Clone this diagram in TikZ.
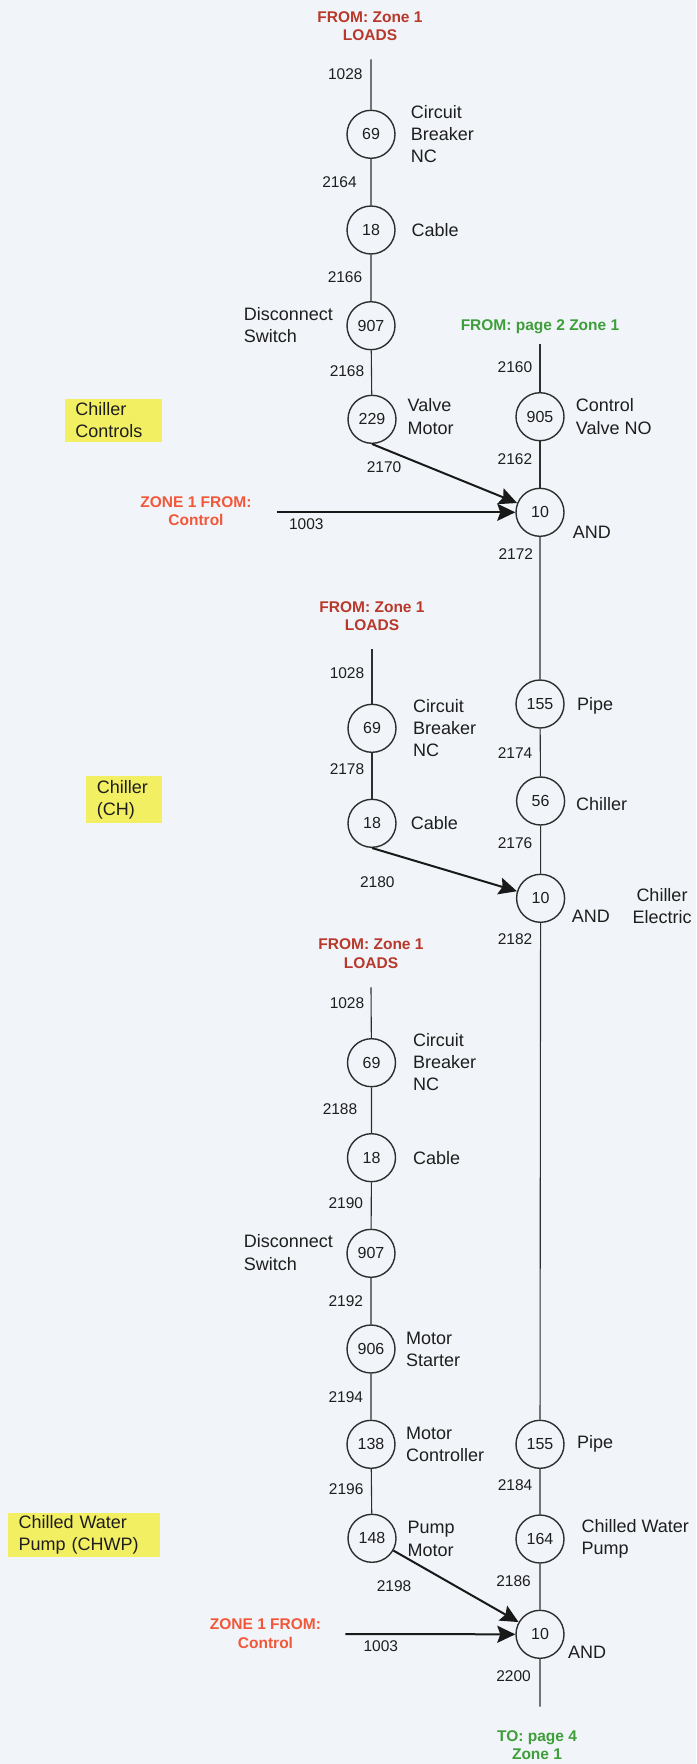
\documentclass[tikz,border=0pt]{standalone}
\usepackage{fontspec}
\setmainfont{Liberation Sans}
\usetikzlibrary{arrows.meta}
\definecolor{bg}{HTML}{F1F5F9}
\definecolor{txt}{HTML}{1E1E1E}
\definecolor{ln}{HTML}{2E2E2E}
\definecolor{dred}{HTML}{B8392C}
\definecolor{ored}{HTML}{F2573A}
\definecolor{grn}{HTML}{3E9E3A}
\definecolor{ylw}{HTML}{F3EF63}
\begin{document}
\begin{tikzpicture}[x=1pt,y=-1pt,
  circ/.style={circle,draw=ln,line width=1.4pt,minimum size=48pt,inner sep=0pt,text=txt,font=\fontsize{16}{18}\selectfont},
  lbl/.style={anchor=west,align=left,inner sep=0pt,text=txt,font=\fontsize{18}{22.3}\selectfont},
  lble/.style={lbl,anchor=east},
  num/.style={inner sep=0pt,text=txt,font=\fontsize{15.5}{17}\selectfont},
  hdr/.style={inner sep=0pt,align=center,font=\bfseries\fontsize{15.5}{18.5}\selectfont},
  ybox/.style={fill=ylw,inner xsep=10.5pt,inner ysep=0pt,align=left,text=txt,font=\fontsize{18}{22.3}\selectfont},
  wire/.style={draw=ln,line width=1.1pt},
  feed/.style={draw=black!90,line width=2pt,-{Stealth[length=18pt,width=17pt,inset=3pt]}}
]
\fill[bg] (0,0) rectangle (696,1764);
\useasboundingbox (0,0) rectangle (696,1764);

% ---------- section 1 (chiller controls)
\node[hdr,text=dred] (r1) at (370,26) {FROM: Zone 1\\LOADS};
\coordinate (t1) at (371,59.3);
\node[circ] (c1a) at (371,134.3) {69};
\node[circ] (c1b) at (371,230) {18};
\node[circ] (c1c) at (371,325.7) {907};
\node[circ] (c1d) at (372,419.3) {229};
\node[lbl] (l1a) at (410.6,134) {Circuit\\Breaker\\NC};
\node[lbl] (l1b) at (411.5,230) {Cable};
\node[lble] (l1c) at (333,325) {Disconnect\\Switch};
\node[lbl] (l1d) at (407.5,416.7) {Valve\\Motor};
\node[num] (n1028a) at (345.3,74) {1028};
\node[num] (n2164) at (339.5,182.3) {2164};
\node[num] (n2166) at (345,276.7) {2166};
\node[num] (n2168) at (347,370.7) {2168};
\node[num] (n2170) at (384,466.7) {2170};
\draw[wire] (t1) -- (c1a) -- (c1b) -- (c1c) -- (c1d);

\node[ybox,text width=76.5pt,minimum height=42.7pt] (bx1) at (113.65,420.3) {Chiller\\Controls};

\node[hdr,text=grn] (g1) at (540,326.7) {FROM: page 2 Zone 1};
\coordinate (t2) at (540,344.3);
\node[circ] (c2a) at (540,416.7) {905};
\node[circ] (c2b) at (540,512.3) {10};
\node[lbl] (l2a) at (575.7,416.7) {Control\\Valve NO};
\node[lbl] (l2b) at (572.6,532.3) {AND};
\node[num] (n2160) at (514.9,366.7) {2160};
\node[num] (n2162) at (514.9,459.3) {2162};
\node[num] (n2172) at (515.8,554) {2172};
\draw[wire] (t2) -- (c2a) -- (c2b);

\node[hdr,text=ored] (o1) at (196,511) {ZONE 1 FROM:\\Control};
\coordinate (s1) at (276.5,512.3);
\node[num] (n1003a) at (306.3,524.3) {1003};
\draw[feed] (s1) -- (c2b.west);
\draw[feed] (c1d.south) -- (c2b);

% ---------- section 2 (chiller)
\node[circ] (c2c) at (540,704) {155};
\node[circ] (c2d) at (540.6,801) {56};
\node[circ] (c2e) at (540.6,898.3) {10};
\node[lbl] (l2c) at (577,706) {Pipe};
\node[lbl] (l2d) at (576,804) {Chiller};
\node[lbl] (l2e) at (571.7,916.7) {AND};
\node[lbl,anchor=center,align=center] (l2f) at (662,906.3) {Chiller\\Electric};
\node[num] (n2174) at (515,752.7) {2174};
\node[num] (n2176) at (515,843.3) {2176};
\node[num] (n2182) at (515,939) {2182};
\draw[wire] (c2b) -- (c2c) -- (c2d) -- (c2e);

\node[hdr,text=dred] (r2) at (372,616.2) {FROM: Zone 1\\LOADS};
\coordinate (t3) at (372,649.3);
\node[circ] (c3a) at (372,728.3) {69};
\node[circ] (c3b) at (372,823.3) {18};
\node[lbl] (l3a) at (412.8,728) {Circuit\\Breaker\\NC};
\node[lbl] (l3b) at (410.6,823.3) {Cable};
\node[num] (n1028b) at (347,672.7) {1028};
\node[num] (n2178) at (347,769.3) {2178};
\node[num] (n2180) at (377.3,882.3) {2180};
\draw[wire] (t3) -- (c3a) -- (c3b);
\draw[feed] (c3b.south) -- (c2e);

\node[ybox,text width=54.9pt,minimum height=47.3pt] (bx2) at (124.25,799.7) {Chiller\\(CH)};

% ---------- section 3 (chilled water pump)
\node[hdr,text=dred] (r3) at (371,953.8) {FROM: Zone 1\\LOADS};
\coordinate (t4) at (371,987.3);
\node[circ] (c4a) at (371.5,1062.7) {69};
\node[circ] (c4b) at (371.5,1157.7) {18};
\node[circ] (c4c) at (371,1253.3) {907};
\node[circ] (c4d) at (371,1349) {906};
\node[circ] (c4e) at (371,1444.3) {138};
\node[circ] (c4f) at (372,1538.3) {148};
\node[lbl] (l4a) at (412.8,1062) {Circuit\\Breaker\\NC};
\node[lbl] (l4b) at (412.8,1157.7) {Cable};
\node[lble] (l4c) at (333,1252.5) {Disconnect\\Switch};
\node[lbl] (l4d) at (406,1349.2) {Motor\\Starter};
\node[lbl] (l4e) at (406,1444.5) {Motor\\Controller};
\node[lbl] (l4f) at (407.5,1538.8) {Pump\\Motor};
\node[num] (n1028c) at (347,1003.3) {1028};
\node[num] (n2188) at (340,1109.3) {2188};
\node[num] (n2190) at (345.8,1203.3) {2190};
\node[num] (n2192) at (345.8,1300.7) {2192};
\node[num] (n2194) at (345.8,1396.7) {2194};
\node[num] (n2196) at (346.2,1489.3) {2196};
\node[num] (n2198) at (394,1586) {2198};
\draw[wire] (t4) -- (c4a) -- (c4b) -- (c4c) -- (c4d) -- (c4e) -- (c4f);

\node[ybox,text width=130.6pt,minimum height=43.4pt] (bx3) at (83.9,1535) {Chilled Water\\Pump (CHWP)};

\node[circ] (c5a) at (540,1444.3) {155};
\node[circ] (c5b) at (540,1539) {164};
\node[circ] (c5c) at (540,1634.3) {10};
\node[lbl] (l5a) at (577,1444.3) {Pipe};
\node[lbl] (l5b) at (581.4,1538.8) {Chilled Water\\Pump};
\node[lbl] (l5c) at (568,1652.3) {AND};
\node[num] (n2184) at (515,1485) {2184};
\node[num] (n2186) at (513.5,1580.7) {2186};
\node[num] (n2200) at (513.5,1675.7) {2200};
\coordinate (e1) at (540,1706.7);
\draw[wire] (c2e) -- (c5a) -- (c5b) -- (c5c) -- (e1);
\node[hdr,text=grn] (g2) at (537,1745) {TO: page 4\\Zone 1};

\node[hdr,text=ored] (o2) at (265.5,1633.8) {ZONE 1 FROM:\\Control};
\coordinate (s2) at (345.3,1634);
\node[num] (n1003b) at (380.8,1645.7) {1003};
\draw[feed] (s2) -- (c5c.west);
\draw[feed] (c4f) -- (c5c);
\end{tikzpicture}
\end{document}
